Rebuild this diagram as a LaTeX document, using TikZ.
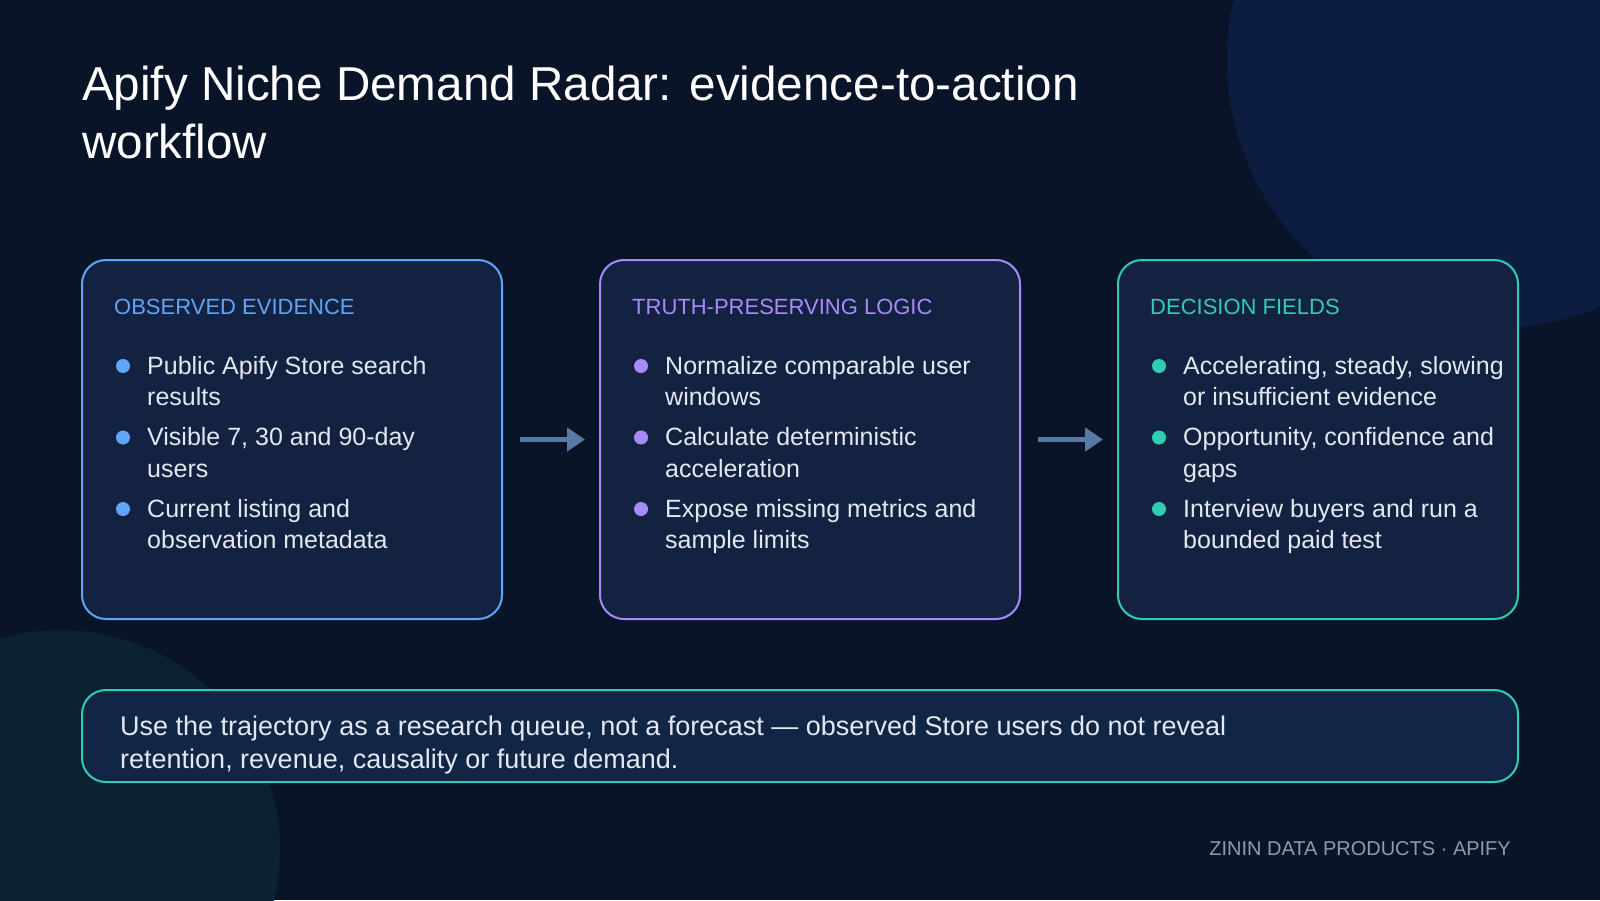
\documentclass[tikz,border=0pt]{standalone}
\usepackage{fontspec}
\setmainfont{Liberation Sans}
\usetikzlibrary{arrows.meta,positioning,calc}
\definecolor{page}{HTML}{0A1429}
\definecolor{glow}{HTML}{0D1D42}
\definecolor{glowteal}{HTML}{0C2131}
\definecolor{panelfill}{HTML}{142241}
\definecolor{notefill}{HTML}{112545}
\definecolor{evidblue}{HTML}{60A5FA}
\definecolor{logicviolet}{HTML}{A78BFA}
\definecolor{fieldteal}{HTML}{30CDB4}
\definecolor{bodytext}{HTML}{E2E8F0}
\definecolor{flowcol}{HTML}{5879A3}
\definecolor{footcol}{HTML}{8B9BB5}

\begin{document}
\begin{tikzpicture}[x=1pt,y=-1pt,
  panel/.style={draw,line width=2pt,rounded corners=24pt,fill=panelfill,minimum height=359pt,inner sep=0pt,outer sep=0pt},
  head/.style={anchor=base west,inner sep=0pt,font=\fontsize{22}{26}\selectfont},
  item/.style={anchor=base west,inner sep=0pt,align=left,text=bodytext,font=\fontsize{25}{31.5}\selectfont},
  dot/.style={circle,inner sep=0pt,minimum size=14pt},
  flow/.style={line width=4.5pt,draw=flowcol,-{Triangle[length=18pt,width=23pt]},shorten <=18pt,shorten >=15pt}]
\useasboundingbox (0,0) rectangle (1600,900);
\fill[page] (0,0) rectangle (1600,900);
\begin{scope}
\clip (0,0) rectangle (1600,900);
\fill[glow] (1495,60) circle (268pt);
\fill[glowteal] (60,850) circle (220pt);
\end{scope}

% base of a two-line node is its last line
\node[anchor=base west,inner sep=0pt,align=left,text=white,font=\fontsize{47.6}{58}\selectfont] (title) at (82,158)
  {Apify Niche Demand Radar: evidence-to-action\\workflow};

% three stages
\node[panel,draw=evidblue,minimum width=420pt,anchor=north west] (evid) at (82,260) {};
\node[panel,draw=logicviolet,minimum width=420pt,right=98pt of evid] (logic) {};
\node[panel,draw=fieldteal,minimum width=400pt,right=98pt of logic] (fields) {};

\node[head,text=evidblue] (evidh) at ($(evid.north west)+(32,54)$) {OBSERVED EVIDENCE};
\node[head,text=logicviolet] (logich) at ($(logic.north west)+(32,54)$) {TRUTH-PRESERVING LOGIC};
\node[head,text=fieldteal] (fieldsh) at ($(fields.north west)+(32,54)$) {DECISION FIELDS};

\foreach \txt [count=\k from 0] in {{Public Apify Store search\\results},{Visible 7, 30 and 90-day\\users},{Current listing and\\observation metadata}}{
  \node[dot,fill=evidblue] (evidd\k) at ($(evid.north west)+(41,106+71.5*\k)$) {};
  \node[item] (evidi\k) at ($(evid.north west)+(65,145.5+71.5*\k)$) {\txt};
}
\foreach \txt [count=\k from 0] in {{Normalize comparable user\\windows},{Calculate deterministic\\acceleration},{Expose missing metrics and\\sample limits}}{
  \node[dot,fill=logicviolet] (logicd\k) at ($(logic.north west)+(41,106+71.5*\k)$) {};
  \node[item] (logici\k) at ($(logic.north west)+(65,145.5+71.5*\k)$) {\txt};
}
\foreach \txt [count=\k from 0] in {{Accelerating, steady, slowing\\or insufficient evidence},{Opportunity, confidence and\\gaps},{Interview buyers and run a\\bounded paid test}}{
  \node[dot,fill=fieldteal] (fieldsd\k) at ($(fields.north west)+(41,106+71.5*\k)$) {};
  \node[item] (fieldsi\k) at ($(fields.north west)+(65,145.5+71.5*\k)$) {\txt};
}

\draw[flow] (evid) -- (logic);
\draw[flow] (logic) -- (fields);

% caveat
\node[panel,draw=fieldteal,fill=notefill,minimum width=1436pt,minimum height=92pt,below=71pt of evid.south west,anchor=north west] (note) {};
\node[anchor=base west,inner sep=0pt,align=left,text=bodytext,font=\fontsize{27}{33}\selectfont] (notetext) at ($(note.north west)+(38,78)$)
  {Use the trajectory as a research queue, not a forecast — observed Store users do not reveal\\retention, revenue, causality or future demand.};

\node[anchor=base east,inner sep=0pt,text=footcol,font=\fontsize{20}{24}\selectfont] (foot) at (1511,855) {ZININ DATA PRODUCTS · APIFY};
\end{tikzpicture}
\end{document}
